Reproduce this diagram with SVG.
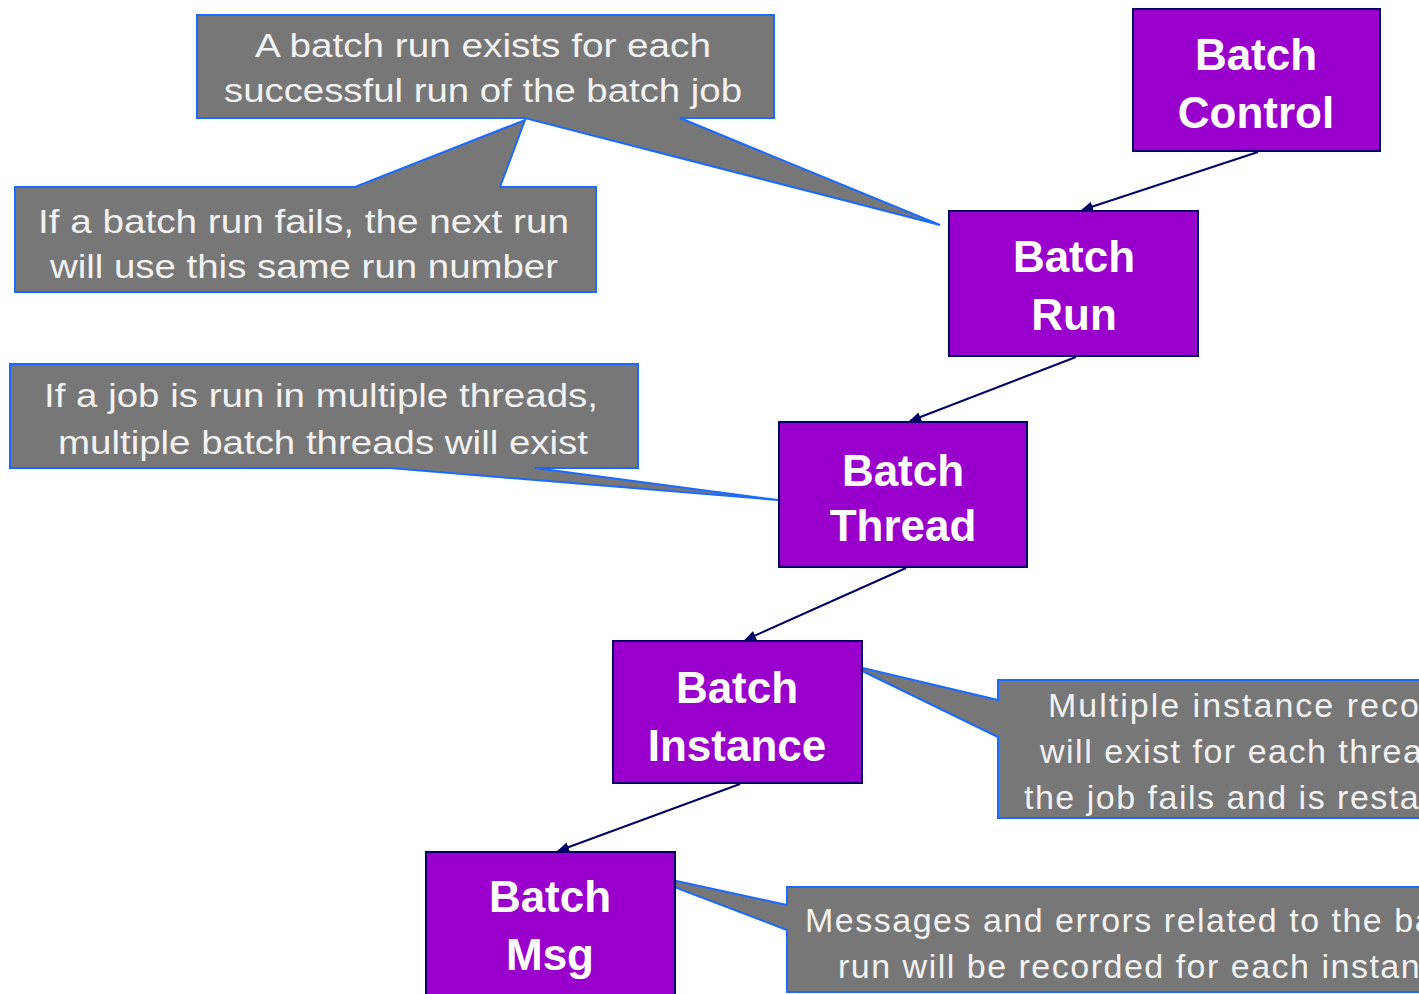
<svg xmlns="http://www.w3.org/2000/svg" width="1419" height="994" viewBox="0 0 1419 994">
<style>
.node rect{fill:#9900CC;stroke:#000066;stroke-width:2}
.node text{font-family:"Liberation Sans",Arial,sans-serif;font-weight:bold;font-size:44px;fill:#ffffff;text-anchor:middle}
.note path{fill:#777777;stroke:#1A6AFF;stroke-width:2;stroke-linejoin:miter}
.note text{font-family:"Liberation Sans",Arial,sans-serif;font-size:34px;fill:#F2F2F2}
.note text.wide{letter-spacing:1.5px}
.conn line{stroke:#000066;stroke-width:2}
</style>
<defs>
<marker id="arr" markerWidth="12" markerHeight="12" refX="11" refY="6" orient="auto" markerUnits="userSpaceOnUse">
<path d="M0,1 L12,6 L0,11 Z" fill="#000066"/>
</marker>
</defs>
<rect width="1419" height="994" fill="#ffffff"/>

<g id="note-run" class="note">
<path d="M197,15 H774 V118 H680 L940,225 L525,118 H197 Z"/>
<text x="255" y="57" textLength="456" lengthAdjust="spacingAndGlyphs">A batch run exists for each</text>
<text x="224" y="102" textLength="518" lengthAdjust="spacingAndGlyphs">successful run of the batch job</text>
</g>
<g id="note-fail" class="note">
<path d="M15,187 H355 L525,120 L500,187 H596 V292 H15 Z"/>
<text x="38" y="233" textLength="531" lengthAdjust="spacingAndGlyphs">If a batch run fails, the next run</text>
<text x="50" y="278" textLength="508" lengthAdjust="spacingAndGlyphs">will use this same run number</text>
</g>
<g id="note-thread" class="note">
<path d="M10,364 H638 V468 H535 L778,500 L390,468 H10 Z"/>
<text x="44" y="407" textLength="554" lengthAdjust="spacingAndGlyphs">If a job is run in multiple threads,</text>
<text x="58" y="454" textLength="530" lengthAdjust="spacingAndGlyphs">multiple batch threads will exist</text>
</g>
<g id="note-instance" class="note">
<path d="M998,680 H1430 V818 H998 V737 L850,665 L998,700 Z"/>
<text x="1048" y="717" style="letter-spacing:2px">Multiple instance records</text>
<text x="1040" y="763" class="wide">will exist for each thread if</text>
<text x="1024" y="809" class="wide">the job fails and is restarted</text>
</g>
<g id="note-msg" class="note">
<path d="M787,887 H1430 V992 H787 V930 L635,872 L787,905 Z"/>
<text x="805" y="932" style="letter-spacing:1.5px">Messages and errors related to the batch</text>
<text x="838" y="978" class="wide">run will be recorded for each instance</text>
</g>

<g id="connectors" class="conn">
<line x1="1258" y1="152" x2="1082" y2="210" marker-end="url(#arr)"/>
<line x1="1076" y1="357" x2="910" y2="421" marker-end="url(#arr)"/>
<line x1="906" y1="568" x2="745" y2="640" marker-end="url(#arr)"/>
<line x1="740" y1="784" x2="558" y2="851" marker-end="url(#arr)"/>
</g>

<g id="batch-control" class="node">
<rect x="1133" y="9" width="247" height="142"/>
<text x="1256" y="70">Batch</text>
<text x="1256" y="128">Control</text>
</g>
<g id="batch-run" class="node">
<rect x="949" y="211" width="249" height="145"/>
<text x="1074" y="272">Batch</text>
<text x="1074" y="330">Run</text>
</g>
<g id="batch-thread" class="node">
<rect x="779" y="422" width="248" height="145"/>
<text x="903" y="486">Batch</text>
<text x="903" y="541">Thread</text>
</g>
<g id="batch-instance" class="node">
<rect x="613" y="641" width="249" height="142"/>
<text x="737" y="703">Batch</text>
<text x="737" y="761">Instance</text>
</g>
<g id="batch-msg" class="node">
<rect x="426" y="852" width="249" height="150"/>
<text x="550" y="912">Batch</text>
<text x="550" y="970">Msg</text>
</g>
</svg>
